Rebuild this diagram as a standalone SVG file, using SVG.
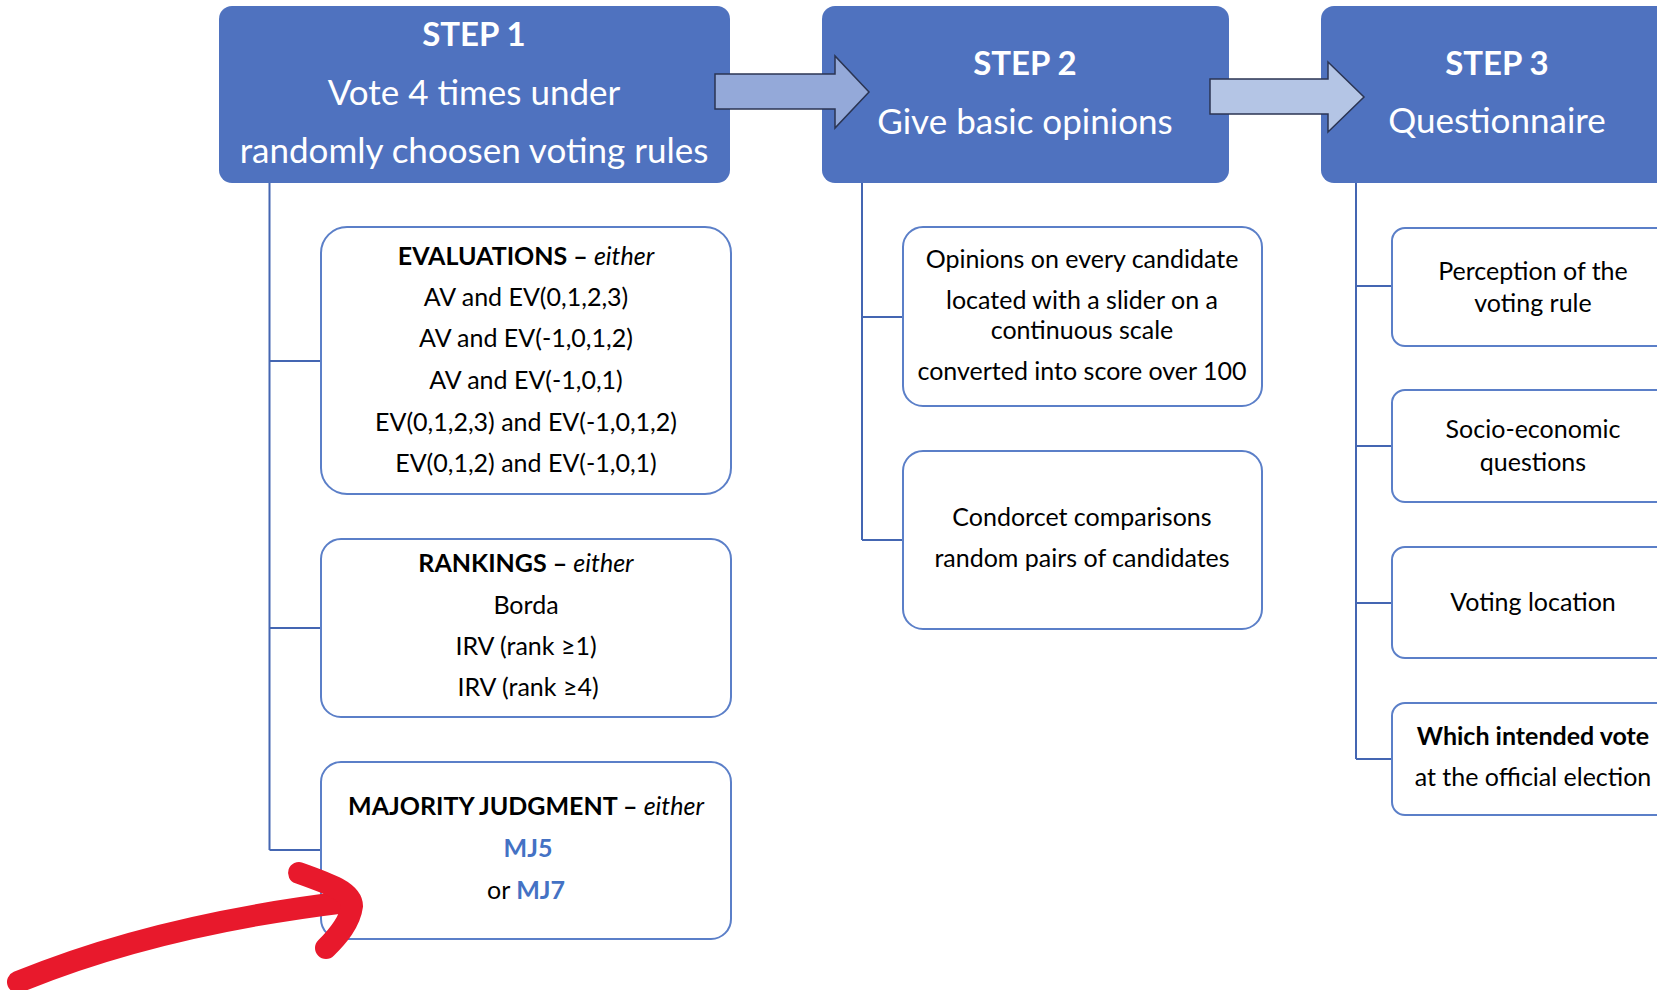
<svg xmlns="http://www.w3.org/2000/svg" width="1657" height="990" viewBox="0 0 1657 990">
<style>
.hdr{fill:#4F72BF}
.hb{font-family:Lato,"Liberation Sans",sans-serif;font-weight:700;font-size:33px;fill:#fff;text-anchor:middle}
.ht{font-family:Lato,"Liberation Sans",sans-serif;font-size:35px;fill:#fff;text-anchor:middle}
.box{fill:#fff;stroke:#5B7FC8;stroke-width:2}
.t{font-family:Lato,"Liberation Sans",sans-serif;font-size:25px;fill:#000;text-anchor:middle}
.b{font-weight:700}
.i{font-style:italic}
.mj{fill:#4472C4;font-weight:700}
.conn{fill:none;stroke:#4466B2;stroke-width:2}
.arr{stroke:#2B3553;stroke-width:1.5}
</style>
<rect width="1657" height="990" fill="#fff"/>
<g id="step1">
<rect class="hdr" x="219" y="6" width="511" height="177" rx="13"/>
<text class="hb" x="474" y="46">STEP 1</text>
<text class="ht" x="474" y="105">Vote 4 times under</text>
<text class="ht" x="474" y="163">randomly choosen voting rules</text>
</g>
<g id="step2">
<rect class="hdr" x="822" y="6" width="407" height="177" rx="13"/>
<text class="hb" x="1025" y="75">STEP 2</text>
<text class="ht" x="1025" y="134">Give basic opinions</text>
</g>
<g id="step3">
<rect class="hdr" x="1321" y="6" width="360" height="177" rx="13"/>
<text class="hb" x="1497" y="75">STEP 3</text>
<text class="ht" x="1497" y="133">Questionnaire</text>
</g>
<g id="arrows">
<polygon class="arr" fill="#94A9D9" points="715,74 835,74 835,56 869,92 835,128 835,109 715,109"/>
<polygon class="arr" fill="#B4C5E5" points="1210,79 1328,79 1328,62 1364,97 1328,132 1328,114 1210,114"/>
</g>
<g id="connectors">
<path class="conn" d="M269.5 183V850M269.5 361H321M269.5 628H321M269.5 850H321"/>
<path class="conn" d="M862 183V540M862 317H902M862 540H902"/>
<path class="conn" d="M1356 183V759M1356 286H1392M1356 446H1392M1356 603H1392M1356 759H1392"/>
</g>
<g id="evaluations">
<rect class="box" x="321" y="227" width="410" height="267" rx="26"/>
<text class="t" x="526" y="265"><tspan class="b">EVALUATIONS – </tspan><tspan class="i">either</tspan></text>
<text class="t" x="526" y="306">AV and EV(0,1,2,3)</text>
<text class="t" x="526" y="347">AV and EV(-1,0,1,2)</text>
<text class="t" x="526" y="389">AV and EV(-1,0,1)</text>
<text class="t" x="526" y="431">EV(0,1,2,3) and EV(-1,0,1,2)</text>
<text class="t" x="526" y="472">EV(0,1,2) and EV(-1,0,1)</text>
</g>
<g id="rankings">
<rect class="box" x="321" y="539" width="410" height="178" rx="20"/>
<text class="t" x="526" y="572"><tspan class="b">RANKINGS – </tspan><tspan class="i">either</tspan></text>
<text class="t" x="526" y="614">Borda</text>
<text class="t" x="526" y="655">IRV (rank  ≥1)</text>
<text class="t" x="528" y="696">IRV (rank ≥4)</text>
</g>
<g id="majority">
<rect class="box" x="321" y="762" width="410" height="177" rx="20"/>
<text class="t" x="526" y="815"><tspan class="b">MAJORITY JUDGMENT – </tspan><tspan class="i">either</tspan></text>
<text class="t mj" x="528" y="857">MJ5</text>
<text class="t" x="526" y="899">or <tspan class="mj">MJ7</tspan></text>
</g>
<g id="opinions">
<rect class="box" x="903" y="227" width="359" height="179" rx="20"/>
<text class="t" x="1082" y="268">Opinions on every candidate</text>
<text class="t" x="1082" y="309">located with a slider on a</text>
<text class="t" x="1082" y="339">continuous scale</text>
<text class="t" x="1082" y="380">converted into score over 100</text>
</g>
<g id="condorcet">
<rect class="box" x="903" y="451" width="359" height="178" rx="20"/>
<text class="t" x="1082" y="526">Condorcet comparisons</text>
<text class="t" x="1082" y="567">random pairs of candidates</text>
</g>
<g id="perception">
<rect class="box" x="1392" y="228" width="290" height="118" rx="13"/>
<text class="t" x="1533" y="280">Perception of the</text>
<text class="t" x="1533" y="312">voting rule</text>
</g>
<g id="socio">
<rect class="box" x="1392" y="390" width="290" height="112" rx="13"/>
<text class="t" x="1533" y="438">Socio-economic</text>
<text class="t" x="1533" y="471">questions</text>
</g>
<g id="location">
<rect class="box" x="1392" y="547" width="290" height="111" rx="13"/>
<text class="t" x="1533" y="611">Voting location</text>
</g>
<g id="intended">
<rect class="box" x="1392" y="703" width="290" height="112" rx="13"/>
<text class="t b" x="1533" y="745">Which intended vote</text>
<text class="t" x="1533" y="786">at the official election</text>
</g>
<g id="red-annotation" fill="none" stroke="#E8192C" stroke-width="22" stroke-linecap="round" stroke-linejoin="round">
<path d="M18 982C120 940 230 916 346 902"/>
<path d="M299 873C330 884 352 892 352 906C350 922 338 936 326 948"/>
</g>
</svg>
